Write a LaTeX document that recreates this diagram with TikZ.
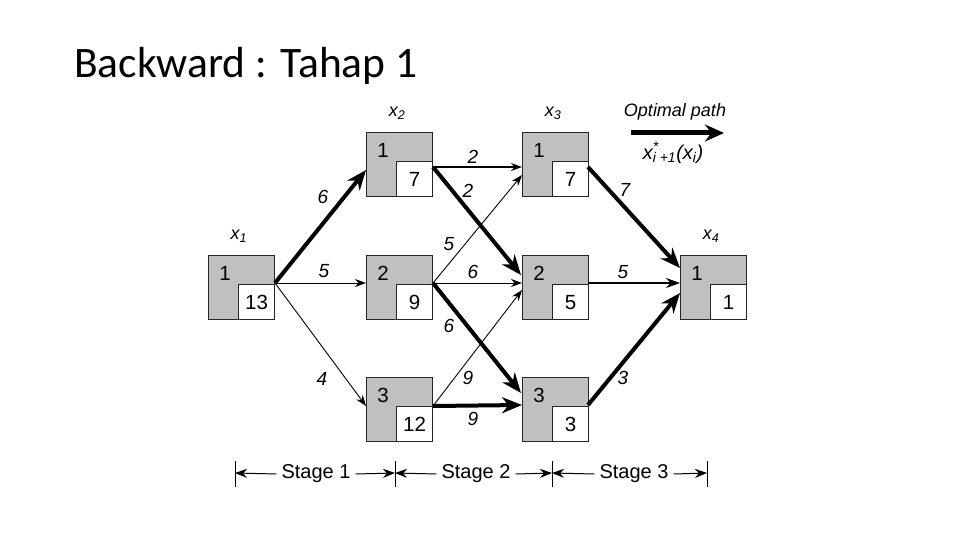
\documentclass[tikz,border=0pt]{standalone}
\usepackage{fontspec}
\setmainfont{Liberation Sans}
\newfontfamily\titlefont{Carlito}
\usetikzlibrary{arrows.meta,calc}
\definecolor{boxgray}{RGB}{192,192,192}
\newcommand\dpbox[5]{%
  \node[outerbox] (#1) at (#2,#3) {};
  \node[innerbox] (#1v) at (#1.south east) {#5};
  \node[toplbl] (#1l) at ($(#1.north west)+(17,18)$) {#4};
}
\begin{document}
\begin{tikzpicture}[x=1pt,y=-1pt,
  outerbox/.style={draw=black!85, line width=1.2pt, fill=boxgray, minimum width=66pt, minimum height=64pt, inner sep=0pt, anchor=north west},
  innerbox/.style={draw=black!85, line width=1.2pt, fill=white, minimum width=36pt, minimum height=35pt, inner sep=0pt, anchor=south east, font=\fontsize{20.5}{20.5}\selectfont},
  toplbl/.style={font=\fontsize{20.5}{20.5}\selectfont, inner sep=0pt},
  thinarr/.style={line width=0.9pt, -{Stealth[length=11pt,width=8pt]}},
  medarr/.style={line width=1.6pt, -{Stealth[length=14pt,width=10pt]}},
  thickarr/.style={line width=4pt, -{Stealth[length=20pt,width=16pt]}},
  elbl/.style={font=\fontsize{19}{19}\selectfont\itshape, inner sep=0pt},
  xlbl/.style={font=\fontsize{18}{18}\selectfont\itshape, inner sep=0pt},
  stagetxt/.style={font=\fontsize{20}{20}\selectfont, inner sep=5pt},
  stagearr/.style={line width=1pt, -{Stealth[length=12pt,width=9pt]}},
  tickline/.style={line width=1pt}
]
\useasboundingbox (0,0) rectangle (960,540);

% title
\node[anchor=base west, font=\titlefont\fontsize{43.5}{43.5}\selectfont, inner sep=0pt] (title) at (74,78) {Backward : Tahap 1};

% boxes
\dpbox{p1}{208}{255}{1}{13}
\dpbox{a1}{366}{132}{1}{7}
\dpbox{a2}{366}{255}{2}{9}
\dpbox{a3}{366}{377}{3}{12}
\dpbox{b1}{522}{132}{1}{7}
\dpbox{b2}{522}{255}{2}{5}
\dpbox{b3}{522}{377}{3}{3}
\dpbox{c1}{680}{255}{1}{1}

% stage labels x_i
\node[xlbl] (x1) at (239,236) {x\textsubscript{1}};
\node[xlbl] (x2) at (397,113) {x\textsubscript{2}};
\node[xlbl] (x3) at (553,113) {x\textsubscript{3}};
\node[xlbl] (x4) at (711,236) {x\textsubscript{4}};

% ports
\coordinate (p1o) at (275,283);
\coordinate (a1o) at (433,167);
\coordinate (a2o) at (433,283);
\coordinate (a3o) at (433,406);
\coordinate (b1o) at (588,167);
\coordinate (b2o) at (588,283);
\coordinate (b3o) at (588,405);
\coordinate (a1i) at (366,170);
\coordinate (a2i) at (366,283);
\coordinate (a3i) at (366,406);
\coordinate (b1ia) at (522,167);
\coordinate (b1ib) at (522,175);
\coordinate (b2ia) at (521,275);
\coordinate (b2ib) at (522,283);
\coordinate (b2ic) at (522,290);
\coordinate (b3ia) at (521,393);
\coordinate (b3ib) at (522,405);
\coordinate (c1ia) at (680,268);
\coordinate (c1ib) at (680,283);
\coordinate (c1ic) at (680,293);

% stage 1
\draw[thickarr] (p1o) -- (a1i);
\draw[thinarr] (p1o) -- (a2i);
\draw[thinarr] (p1o) -- (a3i);
% stage 2
\draw[thinarr, line width=1.2pt] (a1o) -- (b1ia);
\draw[thinarr] (a2o) -- (b1ib);
\draw[thinarr] (a2o) -- (b2ib);
\draw[thinarr] (a3o) -- (b2ic);
\draw[thickarr] (a1o) -- (b2ia);
\draw[thickarr] (a2o) -- (b3ia);
\draw[thickarr] (a3o) -- (b3ib);
% stage 3
\draw[thickarr] (b1o) -- (c1ia);
\draw[medarr] (b2o) -- (c1ib);
\draw[thickarr] (b3o) -- (c1ic);

% edge labels
\node[elbl] (l6a) at (323,197) {6};
\node[elbl] (l5a) at (324,271) {5};
\node[elbl] (l4a) at (322,379) {4};
\node[elbl] (l2a) at (473,157) {2};
\node[elbl] (l2b) at (468,191) {2};
\node[elbl] (l5b) at (449,244) {5};
\node[elbl] (l6b) at (473,272) {6};
\node[elbl] (l6c) at (449,326) {6};
\node[elbl] (l9a) at (468,378) {9};
\node[elbl] (l9b) at (473,419) {9};
\node[elbl] (l7a) at (625,190) {7};
\node[elbl] (l5c) at (623,272) {5};
\node[elbl] (l3a) at (623,378) {3};

% legend
\node[font=\fontsize{18}{18}\selectfont\itshape, inner sep=0pt] (opt) at (675,112) {Optimal path};
\coordinate (optA) at (631,133);
\coordinate (optB) at (724,133);
\draw[line width=5pt, -{Stealth[length=19pt,width=17pt]}] (optA) -- (optB);
\node[font=\fontsize{20}{20}\selectfont\itshape, inner sep=0pt] (optf) at (673,153) {x\rlap{\textsuperscript{*}}\textsubscript{i +1}(x\textsubscript{i})};

% stage bar
\coordinate (t0) at (235,473);
\coordinate (t1) at (395,473);
\coordinate (t2) at (552,473);
\coordinate (t3) at (707,473);
\draw[tickline] (235,461) -- (235,487);
\draw[tickline] (395,461) -- (395,487);
\draw[tickline] (552,461) -- (552,487);
\draw[tickline] (707,461) -- (707,487);
\node[stagetxt] (s1) at (316,474) {Stage 1};
\node[stagetxt] (s2) at (476,474) {Stage 2};
\node[stagetxt] (s3) at (634,474) {Stage 3};
\draw[stagearr] (s1.west) -- (t0);
\draw[stagearr] (s1.east) -- (t1);
\draw[stagearr] (s2.west) -- (t1);
\draw[stagearr] (s2.east) -- (t2);
\draw[stagearr] (s3.west) -- (t2);
\draw[stagearr] (s3.east) -- (t3);
\end{tikzpicture}
\end{document}
